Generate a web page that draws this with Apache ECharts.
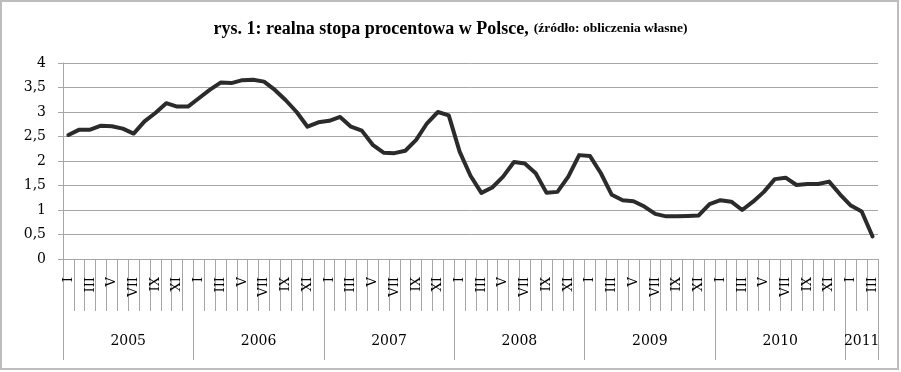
<!DOCTYPE html>
<html>
<head>
<meta charset="utf-8">
<script src="https://cdn.jsdelivr.net/npm/echarts@6/dist/echarts.min.js"></script>
<style>
html,body{margin:0;padding:0;background:#fff;}
#chart{width:901px;height:372px;}
</style>
</head>
<body>
<div id="chart"></div>
<script>
// ---- data ----
const years = ['2005', '2006', '2007', '2008', '2009', '2010', '2011'];
const monthLabels = ['I', 'II', 'III', 'IV', 'V', 'VI', 'VII', 'VIII', 'IX', 'X', 'XI', 'XII'];
const rate2005 = [2.53, 2.64, 2.64, 2.72, 2.71, 2.66, 2.56, 2.81, 2.98, 3.18, 3.11, 3.11];
const rate2006 = [3.28, 3.45, 3.60, 3.59, 3.65, 3.66, 3.62, 3.45, 3.24, 3.00, 2.70, 2.79];
const rate2007 = [2.82, 2.90, 2.70, 2.62, 2.33, 2.17, 2.16, 2.21, 2.43, 2.77, 3.00, 2.93];
const rate2008 = [2.19, 1.70, 1.35, 1.46, 1.68, 1.98, 1.95, 1.75, 1.35, 1.37, 1.68, 2.12];
const rate2009 = [2.10, 1.75, 1.31, 1.20, 1.18, 1.07, 0.92, 0.87, 0.87, 0.88, 0.89, 1.12];
const rate2010 = [1.20, 1.17, 1.00, 1.17, 1.37, 1.63, 1.66, 1.51, 1.53, 1.53, 1.58, 1.32];
const rate2011 = [1.09, 0.97, 0.46];
const yTickLabels = ['0', '0,5', '1', '1,5', '2', '2,5', '3', '3,5', '4'];
const titleMain = 'rys. 1: realna stopa procentowa w Polsce,';
const titleSource = '(źródło: obliczenia własne)';

// ---- build ----
const yearSeries = [rate2005, rate2006, rate2007, rate2008, rate2009, rate2010, rate2011];
const categories = [];
const values = [];
const yearBounds = [0];
const yearCenters = [];
yearSeries.forEach((arr, yi) => {
  const start = yearBounds[yearBounds.length - 1];
  arr.forEach((v, m) => {
    categories.push(monthLabels[m] + ' ' + years[yi]);
    values.push(v);
  });
  yearBounds.push(start + arr.length);
  yearCenters.push(start + arr.length / 2);
});
const total = values.length;

const serif = 'DejaVu Serif';
const chart = echarts.init(document.getElementById('chart'), null, {renderer: 'canvas'});
chart.setOption({
  animation: false,
  backgroundColor: '#ffffff',
  title: {
    text: '{a|' + titleMain + '} {b|' + titleSource + '}',
    left: 'center',
    top: 13,
    textStyle: {
      rich: {
        a: {fontFamily: 'Liberation Serif', fontWeight: 'bold', fontSize: 18, color: '#000', lineHeight: 22},
        b: {fontFamily: 'Liberation Serif', fontWeight: 'bold', fontSize: 13.5, color: '#000', lineHeight: 22}
      }
    }
  },
  graphic: [{
    type: 'rect',
    shape: {x: 1, y: 1, width: 897, height: 368},
    style: {fill: 'none', stroke: '#bdbdbd', lineWidth: 2},
    silent: true,
    z: 100
  }],
  grid: {left: 63, right: 23, top: 63, height: 196, containLabel: false},
  xAxis: [{
    type: 'category',
    data: categories,
    boundaryGap: true,
    axisLine: {show: true, lineStyle: {color: '#a6a6a6', width: 1}},
    axisTick: {show: true, interval: 0, length: 52, lineStyle: {color: '#a6a6a6', width: 1}},
    axisLabel: {
      interval: 1,
      rotate: 90,
      margin: 18,
      fontFamily: serif,
      fontSize: 13,
      color: '#000',
      formatter: (v) => v.split(' ')[0]
    },
    splitLine: {show: false}
  }, {
    type: 'value',
    min: 0,
    max: total,
    position: 'bottom',
    axisLine: {show: false},
    axisTick: {show: true, length: 101, customValues: yearBounds, lineStyle: {color: '#a6a6a6', width: 1}},
    axisLabel: {
      show: true,
      customValues: yearCenters,
      margin: 75,
      fontFamily: serif,
      fontSize: 14,
      color: '#000',
      formatter: (v) => {
        const i = yearCenters.indexOf(v);
        return i >= 0 ? years[i] : '';
      }
    },
    splitLine: {show: false}
  }],
  yAxis: {
    type: 'value',
    min: 0,
    max: 4,
    interval: 0.5,
    axisLine: {show: true, lineStyle: {color: '#a6a6a6', width: 1}},
    axisTick: {show: true, length: 5, lineStyle: {color: '#a6a6a6'}},
    axisLabel: {
      margin: 17,
      fontFamily: serif,
      fontSize: 14,
      color: '#000',
      formatter: (v) => yTickLabels[Math.round(v / 0.5)]
    },
    splitLine: {show: true, lineStyle: {color: '#a6a6a6', width: 1}}
  },
  series: [{
    type: 'line',
    xAxisIndex: 0,
    data: values,
    showSymbol: false,
    smooth: false,
    lineStyle: {color: '#2b2b2b', width: 4, join: 'round', cap: 'round'}
  }]
});
</script>
</body>
</html>
